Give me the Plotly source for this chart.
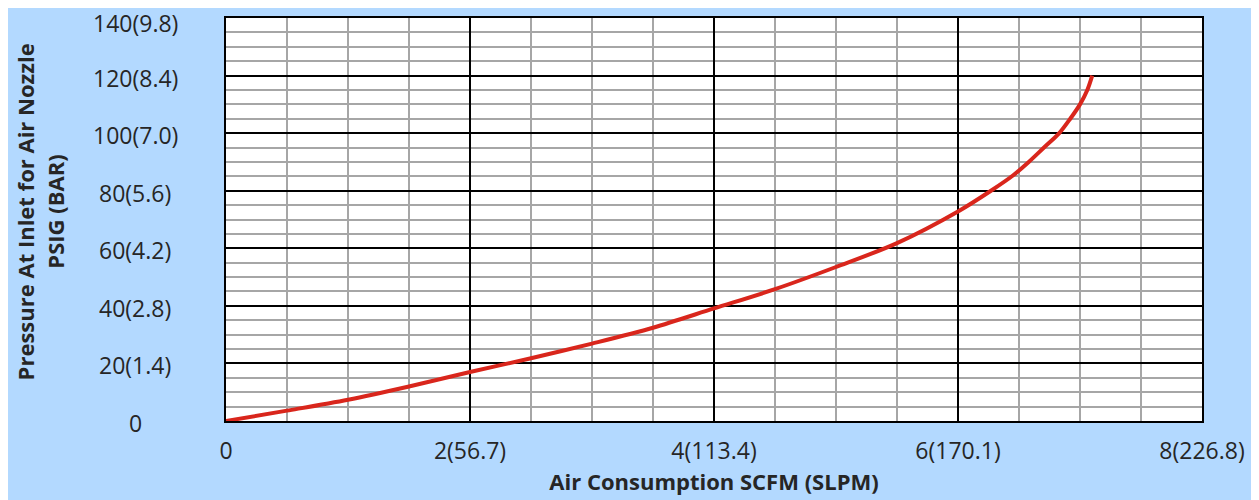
import plotly.graph_objects as go

# Data
flow_scfm = [0, 0.5, 1, 1.5, 2, 2.5, 3, 3.5, 4, 4.5, 5, 5.5, 6, 6.27, 6.45, 6.58, 6.705, 6.83, 6.92, 7.0, 7.06, 7.1]
pressure_psig = [0, 3.6, 7.4, 12.0, 17.0, 21.8, 26.9, 32.4, 39.1, 45.8, 53.5, 61.8, 72.8, 80, 85.3, 90, 95, 100, 105, 110, 115, 120]

x_tickvals = [0, 2, 4, 6, 8]
x_ticktext = ["0", "2(56.7)", "4(113.4)", "6(170.1)", "8(226.8)"]
y_tickvals = [0, 20, 40, 60, 80, 100, 120, 140]
y_ticktext = ["0", "20(1.4)", "40(2.8)", "60(4.2)", "80(5.6)", "100(7.0)", "120(8.4)", "140(9.8)"]
y_title_lines = ["Pressure At Inlet for Air Nozzle", "PSIG (BAR)"]

BG = "#b3d9ff"
TXT = "#262626"
FONT = "Open Sans"

fig = go.Figure()
fig.add_trace(go.Scatter(
    x=flow_scfm, y=pressure_psig, mode="lines",
    line=dict(color="#d9261c", width=4, shape="spline", smoothing=0.9),
    hoverinfo="skip", showlegend=False,
))

fig.update_layout(
    width=1259, height=500,
    paper_bgcolor=BG, plot_bgcolor="white",
    margin=dict(l=218, r=65, t=8, b=87),
    font=dict(family=FONT, color=TXT, size=23),
    xaxis=dict(
        range=[0, 8], tickvals=x_tickvals, ticktext=x_ticktext,
        showgrid=True, gridcolor="black", gridwidth=1.5,
        minor=dict(dtick=0.5, showgrid=True, gridcolor="#a6a6a6", gridwidth=2),
        showline=True, linecolor="black", linewidth=2, mirror=True,
        zeroline=False, ticks="", ticklabelstandoff=8,
        tickfont=dict(family=FONT, size=23, color=TXT),
        title=dict(text="<b>Air Consumption SCFM (SLPM)</b>",
                   font=dict(family=FONT, size=22, color=TXT), standoff=4),
    ),
    yaxis=dict(
        range=[0, 140], tickvals=y_tickvals, showticklabels=False,
        showgrid=True, gridcolor="black", gridwidth=1.5,
        minor=dict(dtick=5, showgrid=True, gridcolor="#a6a6a6", gridwidth=2),
        showline=True, linecolor="black", linewidth=2, mirror=True,
        zeroline=False, ticks="",
    ),
)

# y tick labels, centred like the reference
for v, t in zip(y_tickvals, y_ticktext):
    shift = -5 if v == 140 else -2
    fig.add_annotation(x=-0.0932, xref="paper", y=v, yref="y", text=t,
                       showarrow=False, xanchor="center", yanchor="middle",
                       yshift=shift, font=dict(family=FONT, size=23, color=TXT))

# y-axis title, two rotated lines
for xp, line in zip([-0.206, -0.175], y_title_lines):
    fig.add_annotation(x=xp, xref="paper", y=0.52, yref="paper",
                       text=f"<b>{line}</b>", textangle=-90, showarrow=False,
                       xanchor="center", yanchor="middle",
                       font=dict(family=FONT, size=22, color=TXT))

fig.write_html("out.html")
